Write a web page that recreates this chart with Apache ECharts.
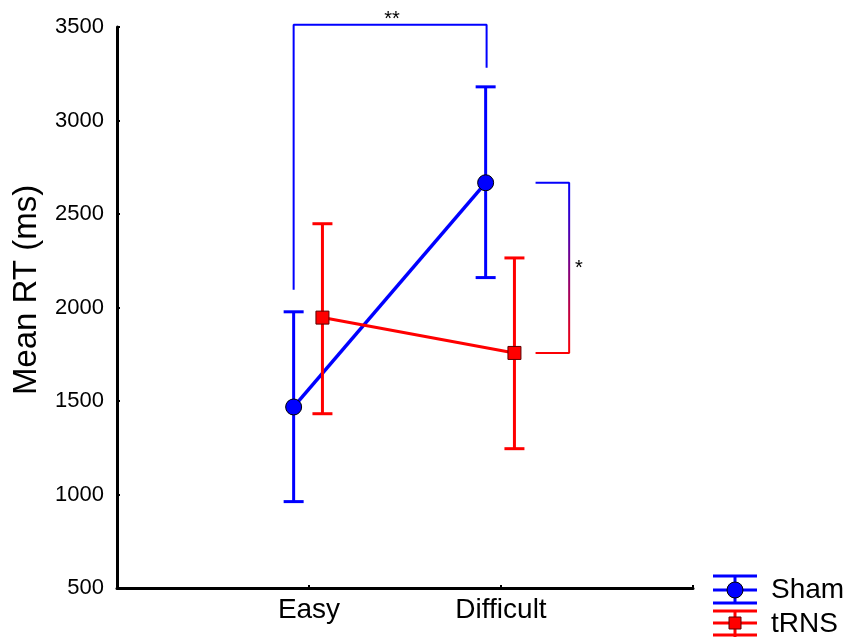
<!DOCTYPE html>
<html>
<head>
<meta charset="utf-8">
<script src="https://cdn.jsdelivr.net/npm/echarts@6/dist/echarts.min.js"></script>
<style>
  html, body { margin: 0; padding: 0; background: #fff; }
  #container { width: 848px; height: 637px; }
</style>
</head>
<body>
<div id="container"></div>
<script>
// categories sit at x = 1 and 2 on a 0..3 value axis
var categories = ['', 'Easy', 'Difficult', ''];
var yTicks = [500, 1000, 1500, 2000, 2500, 3000, 3500];

var shamX = [0.92, 1.92];
var shamMean = [1468, 2667];
var shamLow = [962, 2160];
var shamHigh = [1977, 3180];

var trnsX = [1.07, 2.07];
var trnsMean = [1946, 1757];
var trnsLow = [1432, 1245];
var trnsHigh = [2448, 2265];

// significance brackets (x, y in data units)
var bracketSham = [[0.92, 2095], [0.92, 3512], [1.925, 3512], [1.925, 3282]];
var bracketDiff = [[2.18, 2667], [2.355, 2667], [2.355, 1757], [2.18, 1757]];

var BLUE = '#0000ff';
var RED = '#ff0000';
var FONT = '"Liberation Sans", Arial, sans-serif';

var my_chart = echarts.init(document.getElementById('container'));

function pairs(xs, ys) {
  return xs.map(function (x, i) { return [x, ys[i]]; });
}
function errData(xs, lo, hi) {
  return xs.map(function (x, i) { return [x, lo[i], hi[i]]; });
}
function errRender(color) {
  return function (params, api) {
    var lo = api.coord([api.value(0), api.value(1)]);
    var hi = api.coord([api.value(0), api.value(2)]);
    var w = 10;
    var st = { stroke: color, lineWidth: 3 };
    return {
      type: 'group',
      children: [
        { type: 'line', shape: { x1: lo[0], y1: lo[1], x2: hi[0], y2: hi[1] }, style: st },
        { type: 'line', shape: { x1: hi[0] - w, y1: hi[1], x2: hi[0] + w, y2: hi[1] }, style: st },
        { type: 'line', shape: { x1: lo[0] - w, y1: lo[1], x2: lo[0] + w, y2: lo[1] }, style: st }
      ]
    };
  };
}

var option = {
  animation: false,
  backgroundColor: '#fff',
  grid: { left: 117, right: 155, top: 27, bottom: 49, containLabel: false },
  xAxis: {
    type: 'value',
    min: 0,
    max: 3,
    interval: 1,
    splitLine: { show: false },
    axisLine: { lineStyle: { color: '#000', width: 3 } },
    axisTick: { show: true, inside: true, length: 3, lineStyle: { color: '#000', width: 2 } },
    axisLabel: {
      color: '#000', fontSize: 28, fontFamily: FONT, margin: 8,
      formatter: function (v) { return categories[Math.round(v)] || ''; }
    }
  },
  yAxis: {
    type: 'value',
    min: yTicks[0],
    max: yTicks[yTicks.length - 1],
    interval: 500,
    splitLine: { show: false },
    axisLine: { lineStyle: { color: '#000', width: 3 } },
    axisTick: { show: true, inside: true, length: 3, lineStyle: { color: '#000', width: 2 } },
    axisLabel: {
      color: '#000', fontSize: 22, fontFamily: FONT, margin: 13,
      formatter: function (v) { return String(v); }
    }
  },
  series: [
    {
      type: 'line',
      data: bracketSham,
      clip: false,
      symbol: 'none',
      silent: true,
      lineStyle: { color: BLUE, width: 2 },
      z: 1
    },
    {
      type: 'line',
      data: bracketDiff,
      clip: false,
      symbol: 'none',
      silent: true,
      lineStyle: {
        width: 2,
        color: new echarts.graphic.LinearGradient(0, 0, 0, 1, [
          { offset: 0, color: BLUE },
          { offset: 1, color: RED }
        ])
      },
      z: 1
    },
    {
      name: 'Sham err',
      type: 'custom',
      data: errData(shamX, shamLow, shamHigh),
      renderItem: errRender(BLUE),
      encode: { x: 0, y: [1, 2] },
      z: 2
    },
    {
      name: 'Sham',
      type: 'line',
      data: pairs(shamX, shamMean),
      symbol: 'circle',
      symbolSize: 16,
      lineStyle: { color: BLUE, width: 3.5 },
      itemStyle: { color: BLUE, borderColor: '#000', borderWidth: 1 },
      z: 3
    },
    {
      name: 'tRNS err',
      type: 'custom',
      data: errData(trnsX, trnsLow, trnsHigh),
      renderItem: errRender(RED),
      encode: { x: 0, y: [1, 2] },
      z: 4
    },
    {
      name: 'tRNS',
      type: 'line',
      data: pairs(trnsX, trnsMean),
      symbol: 'rect',
      symbolSize: 13,
      lineStyle: { color: RED, width: 3 },
      itemStyle: { color: RED, borderColor: '#5a0000', borderWidth: 1 },
      z: 5
    }
  ],
  graphic: [
    {
      type: 'text', x: 27, y: 290, rotation: Math.PI / 2,
      style: { text: 'Mean RT (ms)', fill: '#000', font: '33px ' + FONT, align: 'center', verticalAlign: 'middle' }
    },
    {
      type: 'text', x: 392, y: 19,
      style: { text: '**', fill: '#000', font: '20px ' + FONT, align: 'center', verticalAlign: 'middle' }
    },
    {
      type: 'text', x: 579, y: 268,
      style: { text: '*', fill: '#000', font: '20px ' + FONT, align: 'center', verticalAlign: 'middle' }
    },
    // legend: Sham
    { type: 'line', shape: { x1: 713, y1: 576, x2: 757, y2: 576 }, style: { stroke: BLUE, lineWidth: 3 } },
    { type: 'line', shape: { x1: 713, y1: 590, x2: 757, y2: 590 }, style: { stroke: BLUE, lineWidth: 3 } },
    { type: 'line', shape: { x1: 713, y1: 603, x2: 757, y2: 603 }, style: { stroke: BLUE, lineWidth: 3 } },
    { type: 'line', shape: { x1: 735, y1: 576, x2: 735, y2: 603 }, style: { stroke: BLUE, lineWidth: 3 } },
    { type: 'circle', shape: { cx: 735, cy: 590, r: 8 }, style: { fill: BLUE, stroke: '#000', lineWidth: 1 } },
    {
      type: 'text', x: 771, y: 590,
      style: { text: 'Sham', fill: '#000', font: '28px ' + FONT, align: 'left', verticalAlign: 'middle' }
    },
    // legend: tRNS
    { type: 'line', shape: { x1: 713, y1: 611, x2: 757, y2: 611 }, style: { stroke: RED, lineWidth: 3 } },
    { type: 'line', shape: { x1: 713, y1: 623, x2: 757, y2: 623 }, style: { stroke: RED, lineWidth: 3 } },
    { type: 'line', shape: { x1: 713, y1: 635, x2: 757, y2: 635 }, style: { stroke: RED, lineWidth: 3 } },
    { type: 'line', shape: { x1: 735, y1: 611, x2: 735, y2: 637 }, style: { stroke: RED, lineWidth: 3 } },
    { type: 'rect', shape: { x: 729, y: 617, width: 12, height: 12 }, style: { fill: RED, stroke: '#5a0000', lineWidth: 1 } },
    {
      type: 'text', x: 771, y: 624,
      style: { text: 'tRNS', fill: '#000', font: '28px ' + FONT, align: 'left', verticalAlign: 'middle' }
    }
  ]
};

my_chart.setOption(option);
</script>
</body>
</html>
